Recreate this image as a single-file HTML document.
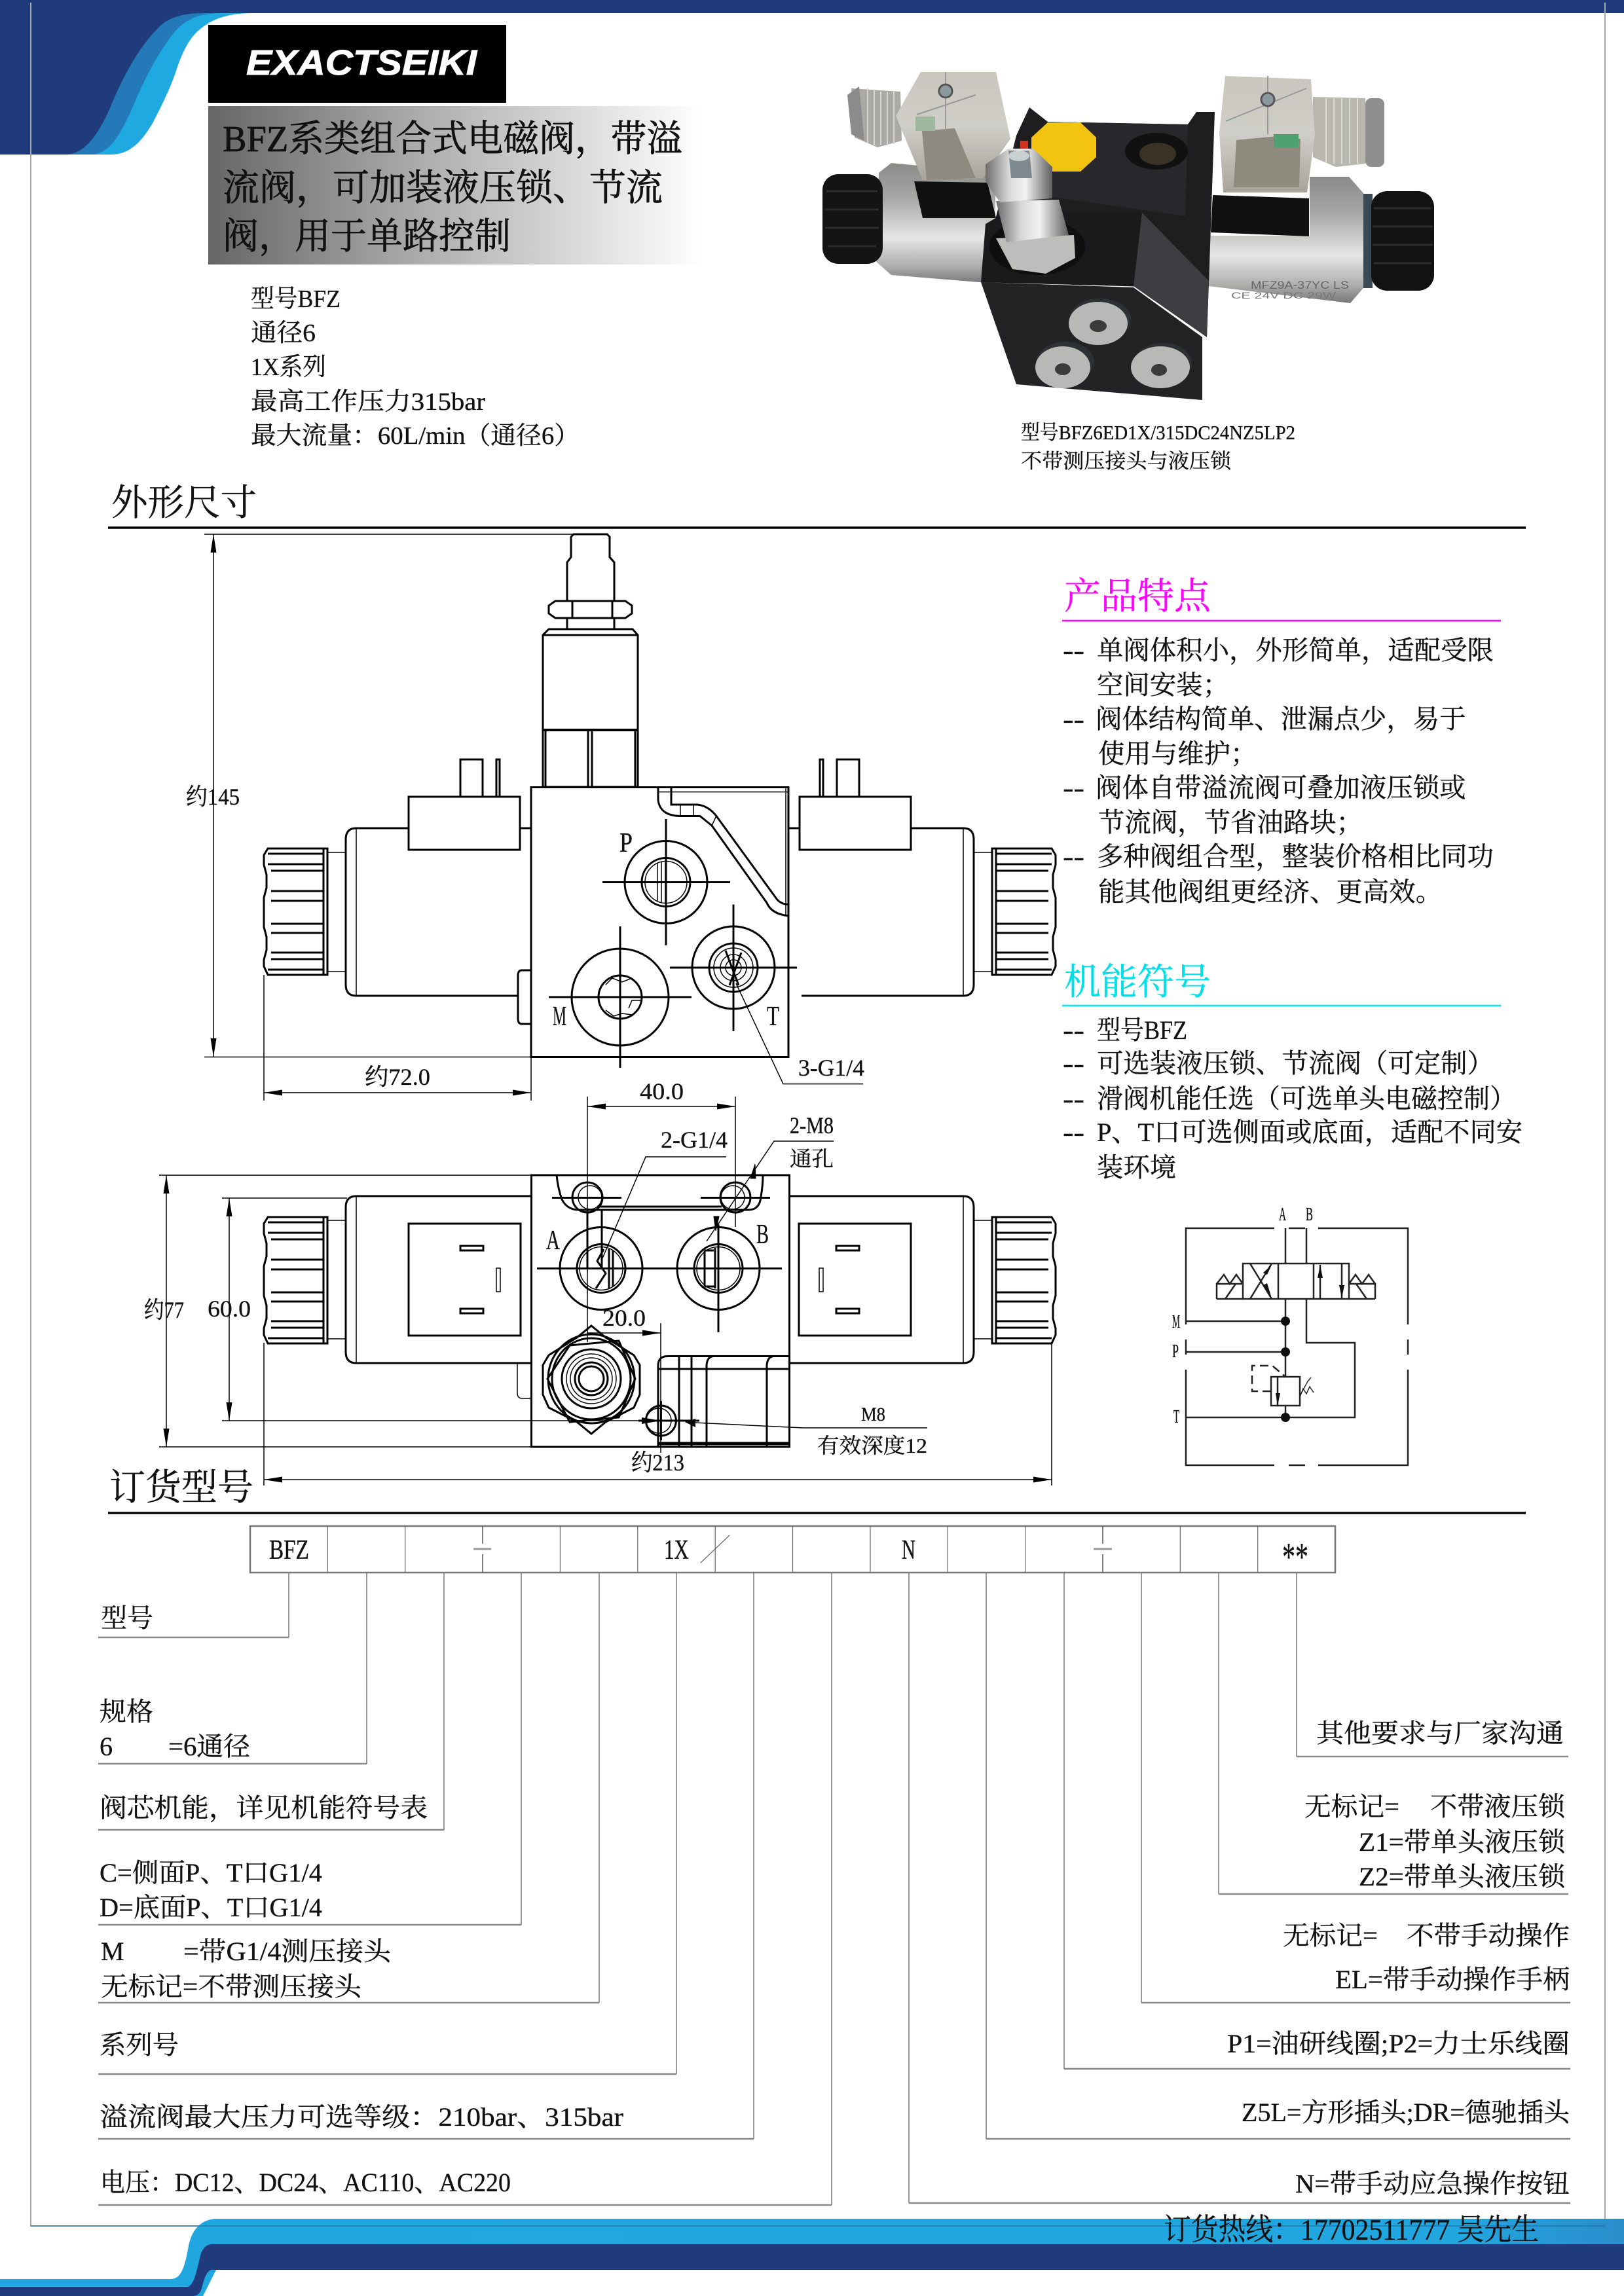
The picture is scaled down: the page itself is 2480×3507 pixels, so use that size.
<!DOCTYPE html>
<html lang="zh"><head><meta charset="utf-8"><title>BFZ</title>
<style>
html,body{margin:0;padding:0;background:#fff}
svg{display:block}
text{font-family:"Liberation Serif","Noto Serif CJK SC",serif;fill:#111;stroke:#111;stroke-width:.35}
.b{font-size:40px}
.d{font-size:36px}
.h{font-size:56px}
.ln{fill:none;stroke:#000;stroke-width:3}
.th{fill:none;stroke:#000;stroke-width:1.5}
.ld{fill:none;stroke:#777;stroke-width:1.5}
.hl{fill:none;stroke:#888;stroke-width:2.5}
</style></head><body>
<svg xmlns="http://www.w3.org/2000/svg" width="2480" height="3507" viewBox="0 0 2480 3507">
<defs>
<marker id="a" viewBox="-28 -5 28 10" markerWidth="28" markerHeight="10" refX="0" refY="0" markerUnits="userSpaceOnUse" orient="auto-start-reverse"><path d="M0,0L-28,-4.5L-28,4.5Z" fill="#000"/></marker>
<linearGradient id="tg" x1="0" x2="1" y1="0" y2="0"><stop offset="0" stop-color="#666"/><stop offset=".45" stop-color="#b0b0b0"/><stop offset="1" stop-color="#fff"/></linearGradient>
<linearGradient id="sil" x1="0" x2="0" y1="0" y2="1"><stop offset="0" stop-color="#8a8a88"/><stop offset=".3" stop-color="#a8a8a6"/><stop offset=".62" stop-color="#e6e6e4"/><stop offset=".85" stop-color="#b0b0ae"/><stop offset="1" stop-color="#77777a"/></linearGradient>
<linearGradient id="sil2" x1="0" x2="1" y1="0" y2="0"><stop offset="0" stop-color="#6c6c6c"/><stop offset=".35" stop-color="#d8d8d8"/><stop offset=".6" stop-color="#f2f2f2"/><stop offset="1" stop-color="#5e5e5e"/></linearGradient>
<linearGradient id="hs" x1="0" x2="0" y1="0" y2="1"><stop offset="0" stop-color="#c9c6be"/><stop offset=".5" stop-color="#d0cec8"/><stop offset="1" stop-color="#a8a49a"/></linearGradient>
<linearGradient id="rb" x1="0" x2="1" y1="0" y2="0"><stop offset="0" stop-color="#21a7e0"/><stop offset=".9" stop-color="#22a6df"/><stop offset="1" stop-color="#2a8dcc"/></linearGradient>
<g id="knob">
<path class="ln" d="M409,0H500V193H409L403,180V170L407,155V135L403,120V75L407,60V40L403,25V10Z"/>
<path class="ln" d="M409,8H494V185H409M494,0V193"/>
<path class="ln" stroke-width="4" d="M409,24H494M414,34H494M414,65H494M414,80H494M414,115H494M414,129H494M414,159H494M414,169H494"/>
</g>
<g id="sideH">
<path class="ln" d="M811,1265H794M624,1265H544Q528,1265 528,1282V1504Q528,1521 544,1521H791"/>
<path class="th" d="M544,1265V1521"/>
<rect class="ln" x="624" y="1217" width="170" height="81" fill="#fff"/>
<path class="ln" d="M703,1217V1160H737V1217M758,1217V1160H763V1217"/>
<use href="#knob" transform="translate(0,1296)"/>
<path class="th" stroke-width="2" d="M500,1302H527M500,1484H527"/>
</g>
<g id="planH">
<path class="ln" d="M811,1827H544Q528,1827 528,1844V2065Q528,2082 544,2082H811"/>
<path class="th" stroke-width="2" d="M544,1827V2082"/>
<rect class="ln" x="624" y="1869" width="171" height="171"/>
<rect class="ln" x="703" y="1903" width="35" height="7"/>
<rect class="ln" x="703" y="1999" width="35" height="7"/>
<rect class="th" stroke-width="2" x="758" y="1937" width="6" height="36"/>
<use href="#knob" transform="translate(0,1859)"/>
<path class="th" stroke-width="2" d="M499,1864H527M499,2045H527"/>
</g>
</defs>

<rect width="2480" height="3507" fill="#fff"/>

<!-- header -->
<rect x="0" y="0" width="2480" height="20" fill="#1f3b7b"/>
<path d="M0,236H170C205,236 222,205 232,190C248,160 262,130 270,105C280,75 292,55 305,45C325,28 350,20 387,20H0Z" fill="#1fa9e1"/>
<path d="M0,236H138C170,236 185,200 200,170C222,115 248,70 270,45C290,25 310,20 345,20H0Z" fill="#2479b8"/>
<path d="M0,236H99C130,236 150,205 168,165C190,110 220,60 250,35C270,22 290,20 315,20H0Z" fill="#1f3b7b"/>

<!-- page frame -->
<path d="M47,4V3400H2451V4" fill="none" stroke="#a8a8a8" stroke-width="2"/>

<!-- logo -->
<rect x="318" y="38" width="455" height="119" fill="#000"/>
<text x="376" y="114" textLength="352" lengthAdjust="spacingAndGlyphs" style="font-family:'Liberation Sans',sans-serif;font-size:54px;font-weight:bold;font-style:italic;fill:#fff;stroke:#fff;stroke-width:1">EXACTSEIKI</text>

<!-- title -->
<rect x="318" y="162" width="757" height="242" fill="url(#tg)"/>
<g style="stroke-width:.8">
<text x="340" y="231" font-size="56" textLength="702" lengthAdjust="spacingAndGlyphs" style="stroke-width:.8">BFZ系类组合式电磁阀，带溢</text>
<text x="340" y="306" font-size="56" textLength="672" lengthAdjust="spacingAndGlyphs" style="stroke-width:.8">流阀，可加装液压锁、节流</text>
<text x="340" y="380" font-size="56" textLength="440" lengthAdjust="spacingAndGlyphs" style="stroke-width:.8">阀，用于单路控制</text>
</g>

<g font-size="38" transform="translate(0,2)">
<text x="383" y="467" textLength="137" lengthAdjust="spacingAndGlyphs">型号BFZ</text>
<text x="383" y="519" textLength="99" lengthAdjust="spacingAndGlyphs">通径6</text>
<text x="383" y="571" textLength="115" lengthAdjust="spacingAndGlyphs">1X系列</text>
<text x="383" y="624" textLength="358" lengthAdjust="spacingAndGlyphs">最高工作压力315bar</text>
<text x="383" y="676" textLength="502" lengthAdjust="spacingAndGlyphs">最大流量：60L/min（通径6）</text>
</g>

<!-- photo -->
<g>
<polygon points="1342,264 1361,249 1520,264 1520,433 1361,420 1336,398" fill="url(#sil)"/>
<rect x="1256" y="266" width="92" height="137" rx="24" fill="#141414"/>
<path d="M1262,292H1340M1260,320H1342M1260,348H1342M1264,376H1338" stroke="#2c2c2c" stroke-width="3" fill="none"/>
<polygon points="1846,360 2000,360 2000,270 2060,270 2082,295 2082,440 2062,463 1846,437" fill="url(#sil)"/>
<rect x="2082" y="296" width="14" height="144" fill="#3a4a55"/>
<rect x="2094" y="292" width="96" height="152" rx="24" fill="#121212"/>
<path d="M2098,318H2186M2096,346H2188M2096,374H2188M2098,402H2186" stroke="#2c2c2c" stroke-width="3" fill="none"/>
<!-- block top -->
<polygon points="1552,207 1572,164 1600,186 1814,190 1827,171 1855,171 1846,433 1843,515 1731,437 1498,431 1514,359" fill="#1e1e20"/>
<polygon points="1600,186 1814,190 1810,330 1600,300" fill="#28282c"/>
<polygon points="1505,342 1540,322 1740,325 1775,360 1750,438 1498,431" fill="#1a1a1c"/>
<polygon points="1744,325 1846,429 1843,515 1731,437" fill="#3d3d42"/>
<polygon points="1498,431 1731,439 1836,515 1836,611 1552,587" fill="#232325"/>
<!-- connector bases -->
<polygon points="1396,277 1508,279 1521,333 1409,333" fill="#101010"/>
<polygon points="1852,298 1999,303 1999,361 1849,355" fill="#101010"/>
<!-- ribbed plugs -->
<polygon points="1300,135 1375,140 1377,215 1340,225 1305,210" fill="#aaa9a6"/>
<polygon points="1294,145 1312,132 1320,215 1300,205" fill="#8b8b8b"/>
<g stroke="#d8d8d6" stroke-width="2"><path d="M1325,135V218M1335,138V222M1345,140V222M1355,140V222M1365,140V220"/></g>
<polygon points="2005,148 2085,150 2085,250 2040,255 2005,240" fill="#b9b6ae"/>
<rect x="2085" y="150" width="29" height="105" rx="9" fill="#8f8f8f"/>
<g stroke="#dadad4" stroke-width="2"><path d="M2025,150V248M2037,150V250M2049,150V250M2061,150V250M2073,150V250"/></g>
<!-- housings -->
<polygon points="1406,110 1521,110 1543,212 1501,272 1409,275 1368,177" fill="url(#hs)"/>
<polygon points="1408,200 1458,196 1490,272 1415,275" fill="#8f8a80"/>
<path d="M1444,110V200M1400,175L1490,145" stroke="#999" stroke-width="2" fill="none"/>
<circle cx="1444" cy="139" r="10" fill="#8c9aa0" stroke="#555" stroke-width="3"/>
<rect x="1398" y="178" width="30" height="22" fill="#9db89c"/>
<polygon points="1871,116 2002,121 2008,207 1996,294 1868,294 1862,203" fill="url(#hs)"/>
<polygon points="1888,214 1950,208 1986,212 1984,286 1884,286" fill="#8f8a7e"/>
<rect x="1945" y="205" width="38" height="20" fill="#4da070"/>
<path d="M1936,116V205M1872,185L1995,135" stroke="#999" stroke-width="2" fill="none"/>
<circle cx="1936" cy="152" r="10" fill="#8c9aa0" stroke="#555" stroke-width="3"/>
<!-- port -->
<ellipse cx="1766" cy="231" rx="48" ry="28" fill="#111"/>
<ellipse cx="1768" cy="235" rx="28" ry="17" fill="#3a3226"/>
<!-- yellow cap -->
<polygon points="1600,187 1650,187 1674,210 1674,240 1650,262 1600,262 1575,240 1575,210" fill="#f2c40f"/>
<rect x="1558" y="215" width="12" height="14" fill="#d0301e"/>
<!-- stud -->
<ellipse cx="1584" cy="377" rx="73" ry="43" fill="#0e0e0e"/>
<polygon points="1521,364 1640,359 1642,394 1597,418 1546,411" fill="#bdbdbb"/>
<polygon points="1521,307 1617,305 1632,359 1537,370" fill="url(#sil2)"/>
<polygon points="1505,251 1540,227 1578,227 1607,255 1607,303 1527,309 1505,277" fill="url(#sil2)"/>
<polygon points="1540,230 1572,230 1576,272 1544,272" fill="#7e8a90"/>
<ellipse cx="1556" cy="238" rx="16" ry="8" fill="#c8d0d2"/>
<!-- screw plugs -->
<ellipse cx="1680" cy="487" rx="47" ry="31" fill="#2d3135"/>
<ellipse cx="1677" cy="494" rx="45" ry="33" fill="#b8b8b6"/>
<ellipse cx="1677" cy="498" rx="13" ry="9" fill="#3b3b3b"/>
<ellipse cx="1627" cy="553" rx="44" ry="31" fill="#2d3135"/>
<ellipse cx="1623" cy="561" rx="42" ry="32" fill="#b8b8b6"/>
<ellipse cx="1623" cy="564" rx="12" ry="9" fill="#3b3b3b"/>
<ellipse cx="1776" cy="554" rx="44" ry="30" fill="#2d3135"/>
<ellipse cx="1772" cy="561" rx="45" ry="32" fill="#b8b8b6"/>
<ellipse cx="1770" cy="565" rx="12" ry="9" fill="#3b3b3b"/>
<text x="1910" y="441" textLength="150" lengthAdjust="spacingAndGlyphs" style="font-family:'Liberation Sans',sans-serif;font-size:17px;fill:#666;stroke:none">MFZ9A-37YC LS</text>
<text x="1880" y="456" textLength="160" lengthAdjust="spacingAndGlyphs" style="font-family:'Liberation Sans',sans-serif;font-size:14px;fill:#777;stroke:none">CE 24V DC 29W</text>
</g>
<text x="1559" y="671" font-size="31" textLength="419" lengthAdjust="spacingAndGlyphs">型号BFZ6ED1X/315DC24NZ5LP2</text>
<text x="1559" y="715" font-size="31" textLength="321" lengthAdjust="spacingAndGlyphs">不带测压接头与液压锁</text>

<!-- section heads -->
<text class="h" x="170" y="787" textLength="222" lengthAdjust="spacingAndGlyphs">外形尺寸</text>
<path d="M165,806H2330" stroke="#000" stroke-width="3.5"/>
<text class="h" x="167" y="2291" textLength="220" lengthAdjust="spacingAndGlyphs">订货型号</text>
<path d="M165,2311H2330" stroke="#000" stroke-width="3.5"/>

<!-- features -->
<text class="h" x="1625" y="930" textLength="224" lengthAdjust="spacingAndGlyphs" style="fill:#f0f;stroke:#f0f">产品特点</text>
<path d="M1622,948H2292" stroke="#f0f" stroke-width="2.5"/>
<g font-size="40.4" transform="translate(0,2)">
<text x="1623" y="1005" textLength="33" lengthAdjust="spacingAndGlyphs">--</text><text x="1675" y="1005">单阀体积小，外形简单，适配受限</text>
<text x="1675" y="1058">空间安装；</text>
<text x="1623" y="1110" textLength="33" lengthAdjust="spacingAndGlyphs">--</text><text x="1673" y="1110">阀体结构简单、泄漏点少，易于</text>
<text x="1677" y="1163">使用与维护；</text>
<text x="1623" y="1215" textLength="33" lengthAdjust="spacingAndGlyphs">--</text><text x="1673" y="1215">阀体自带溢流阀可叠加液压锁或</text>
<text x="1677" y="1268">节流阀，节省油路块；</text>
<text x="1623" y="1320" textLength="33" lengthAdjust="spacingAndGlyphs">--</text><text x="1675" y="1320">多种阀组合型，整装价格相比同功</text>
<text x="1677" y="1374">能其他阀组更经济、更高效。</text>
</g>

<text class="h" x="1625" y="1519" textLength="224" lengthAdjust="spacingAndGlyphs" style="fill:#00e0e8;stroke:#00e0e8">机能符号</text>
<path d="M1622,1536H2292" stroke="#00e8f0" stroke-width="2.5"/>
<g font-size="40.4" transform="translate(0,1)">
<text x="1623" y="1586" textLength="33" lengthAdjust="spacingAndGlyphs">--</text><text x="1675" y="1586" textLength="138" lengthAdjust="spacingAndGlyphs">型号BFZ</text>
<text x="1623" y="1637" textLength="33" lengthAdjust="spacingAndGlyphs">--</text><text x="1675" y="1637">可选装液压锁、节流阀（可定制）</text>
<text x="1623" y="1691" textLength="33" lengthAdjust="spacingAndGlyphs">--</text><text x="1675" y="1691" textLength="640" lengthAdjust="spacingAndGlyphs">滑阀机能任选（可选单头电磁控制）</text>
<text x="1623" y="1742" textLength="33" lengthAdjust="spacingAndGlyphs">--</text><text x="1675" y="1742" textLength="650" lengthAdjust="spacingAndGlyphs">P、T口可选侧面或底面，适配不同安</text>
<text x="1675" y="1796">装环境</text>
</g>

<!-- side view -->
<use href="#sideH"/>
<use href="#sideH" transform="translate(2015,0) scale(-1,1)"/>
<path class="ln" d="M791,1490Q791,1482 797,1482H811V1564H797Q791,1564 791,1556Z"/>
<rect class="ln" x="811" y="1202.5" width="393" height="412" fill="#fff"/>
<path class="ln" d="M876,816H927L931,820V851L938,859V918H866V859L872,851V820Z"/>
<path class="ln" d="M848,918H955L965,925V937L955,944H848L838,937V925ZM874,918V944M935,918V944"/>
<path class="ln" d="M866,944V961M938,944V961"/>
<path class="ln" d="M838,961H966L974,970V1202H829V970ZM829,970H974"/>
<path d="M829,1115H974" stroke="#000" stroke-width="4"/>
<path class="ln" d="M833,1115V1202M898,1115V1202M904,1115V1202M970,1115V1202"/>
<!-- groove -->
<path class="ln" d="M1005,1202.5V1222Q1008,1246 1039,1246.5H1069L1087,1261L1171,1379Q1178,1396 1204,1399"/>
<path class="ln" d="M1025,1202.5V1229H1065Q1082,1231 1094,1246.5L1186,1373Q1192,1381 1204,1381.5"/>
<path class="th" d="M1005,1209.6H1204M1200,1202.5V1399M1039,1229V1246M1059,1229V1246M1087,1261L1094,1246"/>
<!-- ports -->
<g class="ln">
<circle class="ln" cx="1017" cy="1347.5" r="63"/>
<circle class="ln" cx="1017" cy="1347.5" r="37"/>
<circle class="th" cx="1017" cy="1347.5" r="32"/>
<path class="th" stroke-width="2.5" d="M1004,1318V1376M1010,1316V1378M1016,1315V1380"/>
<path class="ln" d="M920,1347.5H1115M1017,1251V1444"/>
<circle class="ln" cx="1120" cy="1478" r="63"/>
<circle class="ln" cx="1120" cy="1478" r="37"/>
<circle class="th" stroke-width="2.5" cx="1120" cy="1478" r="30"/>
<circle class="th" stroke-width="2.5" cx="1120" cy="1478" r="20"/>
<circle class="th" stroke-width="2.5" cx="1120" cy="1478" r="12"/>
<path class="ln" d="M1023,1478H1217M1120,1381.5V1575M1108,1452L1128,1505M1132,1455L1114,1505"/>
<circle class="ln" cx="947" cy="1523" r="74"/>
<circle class="ln" cx="947" cy="1523" r="33"/>
<path class="th" stroke-width="2.5" d="M925,1504L935,1494L950,1500L965,1494M960,1540L965,1528H980M925,1543L937,1552L950,1548L965,1550"/>
<path class="ln" d="M838,1523H1056M947,1415V1631"/>
</g>
<text x="946" y="1301" font-size="42" textLength="20" lengthAdjust="spacingAndGlyphs">P</text>
<text x="844" y="1566" font-size="42" textLength="21" lengthAdjust="spacingAndGlyphs">M</text>
<text x="1171" y="1566" font-size="42" textLength="19" lengthAdjust="spacingAndGlyphs">T</text>
<!-- side dims -->
<path class="th" d="M312,816H929M312,1614.5H811"/>
<path class="th" d="M326,816V1614" marker-start="url(#a)" marker-end="url(#a)"/>
<text class="d" x="284" y="1229" textLength="82" lengthAdjust="spacingAndGlyphs">约145</text>
<path class="th" d="M403,1489V1681M811,1614V1681"/>
<path class="th" d="M403,1669H811" marker-start="url(#a)" marker-end="url(#a)"/>
<text class="d" x="557" y="1657" textLength="100" lengthAdjust="spacingAndGlyphs">约72.0</text>
<path class="th" d="M1124,1502L1196,1655.6H1318"/>
<text class="d" x="1219" y="1643" textLength="101" lengthAdjust="spacingAndGlyphs">3-G1/4</text>

<!-- plan view -->
<use href="#planH"/>
<use href="#planH" transform="translate(2015,0) scale(-1,1)"/>
<rect class="ln" x="811.5" y="1795" width="394" height="415" fill="#fff"/>
<path class="th" stroke-width="2" d="M790,2082V2128Q790,2136 798,2136H811"/>
<path class="ln" d="M850,1795Q852,1815 858,1832Q866,1848 884,1848H1143Q1160,1848 1162,1828Q1165,1810 1165,1795"/>
<path class="ln" stroke-width="4" d="M912,1843H1102"/>
<path class="ln" d="M897,1848V1936M919,1848V1936"/>
<circle class="ln" cx="918" cy="1937.5" r="63"/>
<circle class="ln" cx="918" cy="1937.5" r="37"/>
<circle class="th" stroke-width="2.5" cx="918" cy="1937.5" r="33"/>
<path class="ln" d="M922,1908L912,1926L925,1945L910,1968M930,1908V1968M936,1910V1965"/>
<circle class="ln" cx="1097" cy="1937.5" r="63"/>
<circle class="ln" cx="1097" cy="1937.5" r="37"/>
<circle class="th" stroke-width="2.5" cx="1097" cy="1937.5" r="33"/>
<path class="ln" d="M1076,1910V1965M1092,1906V1968M1076,1910H1090M1076,1965H1092"/>
<path class="ln" d="M820,1937.5H1194M1097,1870V2035"/>
<circle class="ln" cx="897" cy="1829" r="23" fill="#fff"/>
<circle class="th" stroke-width="2" cx="901" cy="1829" r="18"/>
<circle class="ln" cx="1123" cy="1829" r="23" fill="#fff"/>
<circle class="th" stroke-width="2" cx="1119" cy="1829" r="18"/>
<path class="ln" stroke-width="2.5" d="M843,1829.5H949M1070,1829.5H1176"/>
<path class="th" d="M897,1675V2050M1123,1675V1874"/>
<!-- corner -->
<path class="ln" d="M1005,2210V2086Q1005,2071.5 1020,2071.5H1205"/>
<path class="ln" d="M1005,2091H1205M1005,2204H1205M1037,2071.5V2210M1056,2071.5V2210M1079,2210V2085Q1080,2072 1090,2071.5M1171,2210V2085Q1172,2072 1182,2071.5"/>
<path class="ln" stroke-width="4" d="M1005,2206H1205"/>
<!-- plug hex -->
<polygon class="ln" points="903,2025 925,2043 968,2070 977,2085 977,2130 968,2150 925,2172 903,2190 881,2172 838,2150 829,2130 829,2085 838,2070 881,2043" fill="#fff"/>
<polygon class="ln" points="870,2055 945,2048 970,2106 945,2165 870,2172 836,2106"/>
<ellipse class="ln" cx="903" cy="2106" rx="66" ry="68"/>
<ellipse class="ln" cx="903" cy="2106" rx="60" ry="62"/>
<circle class="ln" cx="903" cy="2106" r="45"/>
<circle class="th" stroke-width="2.5" cx="903" cy="2106" r="38"/>
<circle class="th" stroke-width="2.5" cx="903" cy="2106" r="32"/>
<circle class="ln" cx="903" cy="2106" r="25"/>
<circle class="ln" stroke-width="5" cx="903" cy="2106" r="19"/>
<!-- M8 hole -->
<circle class="ln" cx="1009.4" cy="2170" r="23" fill="#fff"/>
<circle class="th" stroke-width="2" cx="1006" cy="2170" r="19"/>
<path class="ln" d="M975,2170H1068M1009.4,2140V2200"/>
<!-- plan dims -->
<path class="th" d="M243,1795H811M243,2210H811"/>
<path class="th" d="M254,1795V2210" marker-start="url(#a)" marker-end="url(#a)"/>
<text class="d" x="220" y="2013" textLength="61" lengthAdjust="spacingAndGlyphs">约77</text>
<path class="th" d="M339,1830H530M339,2170H975"/>
<path class="th" d="M350,1830V2170" marker-start="url(#a)" marker-end="url(#a)"/>
<text class="d" x="317" y="2011" textLength="66" lengthAdjust="spacingAndGlyphs">60.0</text>
<path d="M1009,2170L980,2165V2175Z" fill="#000"/>
<path class="th" d="M403,2051V2269M1606,2051V2269"/>
<path class="th" d="M403,2260H1606" marker-start="url(#a)" marker-end="url(#a)"/>
<text class="d" x="964" y="2246" textLength="81" lengthAdjust="spacingAndGlyphs">约213</text>
<path class="th" d="M1009,2021V2219"/>
<path class="th" d="M897,2036H1009" marker-end="url(#a)"/>
<text class="d" x="920" y="2025" textLength="66" lengthAdjust="spacingAndGlyphs">20.0</text>
<path class="th" d="M1051,2172.5L1227,2181H1416"/>
<path d="M1046,2172L1062,2167V2180Z" fill="#000"/>
<text x="1315" y="2170" font-size="30" textLength="37" lengthAdjust="spacingAndGlyphs">M8</text>
<text x="1248" y="2219" font-size="32" textLength="168" lengthAdjust="spacingAndGlyphs">有效深度12</text>
<path class="th" d="M897,1690H1123" marker-start="url(#a)" marker-end="url(#a)"/>
<text class="d" x="977" y="1679" textLength="67" lengthAdjust="spacingAndGlyphs">40.0</text>
<text class="d" x="1009" y="1753" textLength="102" lengthAdjust="spacingAndGlyphs">2-G1/4</text>
<path class="th" d="M1109,1767H986L920,1922"/>
<text class="d" x="1206" y="1731" textLength="67" lengthAdjust="spacingAndGlyphs">2-M8</text>
<path class="th" d="M1273,1743H1182L1079,1896"/>
<path d="M1153,1778L1146,1800L1154,1800Z M1093,1880L1098,1858L1090,1858Z" fill="#000" stroke="#000"/>
<text x="1206" y="1781" font-size="32" textLength="67" lengthAdjust="spacingAndGlyphs">通孔</text>
<text x="834" y="1908" font-size="42" textLength="21" lengthAdjust="spacingAndGlyphs">A</text>
<text x="1155" y="1899" font-size="42" textLength="19" lengthAdjust="spacingAndGlyphs">B</text>

<!-- hydraulic symbol -->
<g fill="none" stroke="#222" stroke-width="2.5">
<path d="M1811,2023V1876H1946M1968,1876H1993M2013,1876H2150V2023M2150,2046V2069M2150,2092V2238H2013M1993,2238H1968M1946,2238H1811V2092M1811,2069V2046"/>
<path d="M1963,1876V1930M1995,1876V1930"/>
<rect x="1898" y="1930" width="162" height="54"/>
<path d="M1952,1930V1984M2006,1930V1984"/>
<path d="M1858,1984V1961H1898M1858,1984H1898M1871,1984L1887,1961M1858,1961L1869,1947L1878,1961L1888,1947L1898,1961"/>
<path d="M2100,1984V1961H2060M2100,1984H2060M2087,1984L2071,1961M2100,1961L2090,1947L2080,1961L2070,1947L2060,1961"/>
<path d="M1909,1930L1942,1984M1909,1984L1942,1930"/>
<path d="M2016,1984V1932M2049,1930V1984"/>
<path d="M1963,1984V2103M1995,1984V2051H2069V2165H1811"/>
<path d="M1811,2018H1963M1811,2065H1963"/>
<rect x="1941" y="2103" width="44" height="44"/>
<path d="M1951,2103V2147M1963,2147V2165"/>
<path stroke-dasharray="13,7" d="M1941,2125H1912V2086H1943L1963,2103"/>
<path stroke-width="1.5" d="M1985,2134L1990,2121L1995,2129L2000,2118L2006,2127M1985,2132L1997,2110L2002,2104"/>
</g>
<g fill="#111">
<circle cx="1963" cy="2018" r="7"/><circle cx="1963" cy="2065" r="7"/><circle cx="1963" cy="2165" r="7"/>
<path d="M1942,1932L1929,1944L1935,1947ZM1942,1983L1929,1963L1935,1960ZM2016,1932L2012,1952H2020ZM2049,1983L2045,1963H2053ZM1951,2147L1948,2128H1955Z"/>
</g>
<g font-size="29">
<text x="1953" y="1864" textLength="11" lengthAdjust="spacingAndGlyphs">A</text>
<text x="1994" y="1864" textLength="11" lengthAdjust="spacingAndGlyphs">B</text>
<text x="1790" y="2028" textLength="12" lengthAdjust="spacingAndGlyphs">M</text>
<text x="1790" y="2073" textLength="10" lengthAdjust="spacingAndGlyphs">P</text>
<text x="1792" y="2173" textLength="9" lengthAdjust="spacingAndGlyphs">T</text>
</g>

<!-- order table -->
<rect x="382" y="2331" width="1657" height="71" fill="none" stroke="#777" stroke-width="2.5"/>
<path d="M500.4,2331V2402M618.7,2331V2402M855.4,2331V2402M973.8,2331V2402M1092.2,2331V2402M1210.5,2331V2402M1328.9,2331V2402M1447.2,2331V2402M1565.6,2331V2402M1802.3,2331V2402M1920.7,2331V2402" stroke="#666" stroke-width="1.2" fill="none"/>
<path d="M737,2331V2358M737,2374V2402M1684,2331V2358M1684,2374V2402" stroke="#555" stroke-width="1.5" fill="none"/>
<path d="M723,2366H750M1670,2366H1698" stroke="#999" stroke-width="3"/>
<path d="M1114,2345L1070,2387" stroke="#555" stroke-width="1.2"/>
<g font-size="42">
<text x="411" y="2381" textLength="61" lengthAdjust="spacingAndGlyphs">BFZ</text>
<text x="1014" y="2381" textLength="38" lengthAdjust="spacingAndGlyphs">1X</text>
<text x="1377" y="2381" textLength="21" lengthAdjust="spacingAndGlyphs">N</text>
<text x="1958" y="2398" font-size="60" textLength="40" lengthAdjust="spacingAndGlyphs">**</text>
</g>
<g class="ld">
<path class="ld" d="M441,2402V2501M560,2402V2694M678,2402V2795M796,2402V2940M915,2402V3059M1033,2402V3168M1151,2402V3267M1270,2402V3368"/>
<path class="ld" d="M1388,2402V3365M1506,2402V3267M1625,2402V3160M1743,2402V3059M1861,2402V2893M1980,2402V2683"/>
<path class="hl" d="M150,2501H441M150,2694H560M150,2795H678M150,2940H796M150,3059H915M150,3168H1033M150,3267H1151M150,3368H1270"/>
<path class="hl" d="M1388,3365H2398M1506,3267H2398M1625,3160H2398M1743,3059H2398M1861,2893H2395M1980,2683H2395"/>
</g>
<g font-size="40" transform="translate(0,2)">
<text x="154" y="2483" textLength="80" lengthAdjust="spacingAndGlyphs">型号</text>
<text x="152" y="2626" textLength="82" lengthAdjust="spacingAndGlyphs">规格</text>
<text x="152" y="2679">6</text>
<text x="257" y="2679" textLength="125" lengthAdjust="spacingAndGlyphs">=6通径</text>
<text x="152" y="2773" textLength="501" lengthAdjust="spacingAndGlyphs">阀芯机能，详见机能符号表</text>
<text x="152" y="2872" textLength="340" lengthAdjust="spacingAndGlyphs">C=侧面P、T口G1/4</text>
<text x="152" y="2925" textLength="340" lengthAdjust="spacingAndGlyphs">D=底面P、T口G1/4</text>
<text x="154" y="2992">M</text>
<text x="280" y="2992" textLength="317" lengthAdjust="spacingAndGlyphs">=带G1/4测压接头</text>
<text x="154" y="3046" textLength="398" lengthAdjust="spacingAndGlyphs">无标记=不带测压接头</text>
<text x="152" y="3135" textLength="121" lengthAdjust="spacingAndGlyphs">系列号</text>
<text x="152" y="3245" textLength="800" lengthAdjust="spacingAndGlyphs">溢流阀最大压力可选等级：210bar、315bar</text>
<text x="153" y="3345" textLength="627" lengthAdjust="spacingAndGlyphs">电压：DC12、DC24、AC110、AC220</text>
<text x="2010" y="2659" textLength="378" lengthAdjust="spacingAndGlyphs">其他要求与厂家沟通</text>
<text x="1992" y="2771" textLength="145" lengthAdjust="spacingAndGlyphs">无标记=</text>
<text x="2184" y="2771" textLength="206" lengthAdjust="spacingAndGlyphs">不带液压锁</text>
<text x="2075" y="2825" textLength="315" lengthAdjust="spacingAndGlyphs">Z1=带单头液压锁</text>
<text x="2075" y="2878" textLength="315" lengthAdjust="spacingAndGlyphs">Z2=带单头液压锁</text>
<text x="1959" y="2968" textLength="145" lengthAdjust="spacingAndGlyphs">无标记=</text>
<text x="2148" y="2968" textLength="249" lengthAdjust="spacingAndGlyphs">不带手动操作</text>
<text x="2039" y="3035" textLength="358" lengthAdjust="spacingAndGlyphs">EL=带手动操作手柄</text>
<text x="1874" y="3133" textLength="523" lengthAdjust="spacingAndGlyphs">P1=油研线圈;P2=力士乐线圈</text>
<text x="1896" y="3238" textLength="501" lengthAdjust="spacingAndGlyphs">Z5L=方形插头;DR=德驰插头</text>
<text x="1978" y="3347" textLength="419" lengthAdjust="spacingAndGlyphs">N=带手动应急操作按钮</text>
</g>

<!-- footer -->
<path d="M0,3481H261C276,3481 282,3465 288,3430C294,3402 310,3389 332,3389H2480V3467H330L310,3507H0Z" fill="url(#rb)"/>
<path d="M0,3493H285C296,3493 300,3470 306,3445C310,3432 316,3428 324,3428H2480V3467H324C316,3467 312,3480 308,3495C305,3505 300,3507 293,3507H0Z" fill="#1f3b7b"/>
<path d="M47,3400H2451" stroke="#1f6aa0" stroke-width="2" fill="none" opacity=".6"/>
<text x="1777" y="3421" font-size="46" textLength="573" lengthAdjust="spacingAndGlyphs">订货热线：17702511777 吴先生</text>
</svg>
</body></html>
